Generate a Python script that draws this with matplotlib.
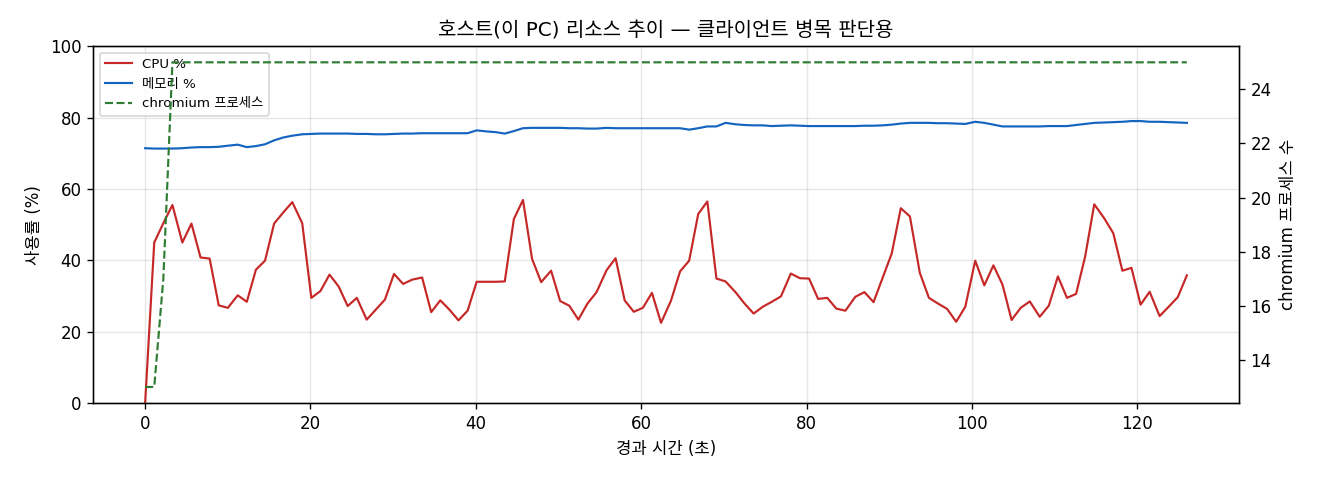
import matplotlib
matplotlib.use("Agg")
from matplotlib import pyplot as plt

plt.rcParams['font.family'] = ['DejaVu Sans', 'Noto Sans CJK KR']
plt.rcParams['axes.unicode_minus'] = False

# 경과 시간 (초)
elapsed = [
    0.0, 1.1, 2.2, 3.3, 4.5, 5.6, 6.7, 7.8, 8.9, 10.0,
    11.2, 12.3, 13.4, 14.5, 15.6, 16.7, 17.8, 19.0, 20.1, 21.2,
    22.3, 23.4, 24.5, 25.6, 26.8, 27.9, 29.0, 30.1, 31.2, 32.3,
    33.5, 34.6, 35.7, 36.8, 37.9, 39.0, 40.1, 41.3, 42.4, 43.5,
    44.6, 45.7, 46.8, 47.9, 49.1, 50.2, 51.3, 52.4, 53.5, 54.6,
    55.8, 56.9, 58.0, 59.1, 60.2, 61.3, 62.4, 63.6, 64.7, 65.8,
    66.9, 68.0, 69.1, 70.2, 71.4, 72.5, 73.6, 74.7, 75.8, 76.9,
    78.1, 79.2, 80.3, 81.4, 82.5, 83.6, 84.7, 85.9, 87.0, 88.1,
    89.2, 90.3, 91.4, 92.5, 93.7, 94.8, 95.9, 97.0, 98.1, 99.2,
    100.4, 101.5, 102.6, 103.7, 104.8, 105.9, 107.0, 108.2, 109.3, 110.4,
    111.5, 112.6, 113.7, 114.8, 116.0, 117.1, 118.2, 119.3, 120.4, 121.5,
    122.7, 123.8, 124.9, 126.0,
]

cpu = [
    0.0, 45.0, 50.4, 55.5, 45.0, 50.3, 40.8, 40.5, 27.4, 26.7,
    30.2, 28.4, 37.4, 39.9, 50.3, 53.4, 56.3, 50.4, 29.5, 31.4,
    36.0, 32.7, 27.2, 29.5, 23.4, 26.2, 29.0, 36.2, 33.4, 34.6,
    35.2, 25.5, 28.8, 26.2, 23.2, 25.9, 34.0, 34.0, 34.0, 34.1,
    51.6, 56.9, 40.4, 33.9, 37.1, 28.6, 27.3, 23.4, 27.9, 31.1,
    37.2, 40.6, 28.8, 25.6, 26.7, 30.9, 22.5, 28.7, 36.9, 39.9,
    53.0, 56.5, 34.9, 34.1, 31.1, 27.9, 25.1, 27.0, 28.4, 29.9,
    36.3, 35.0, 34.9, 29.2, 29.5, 26.5, 25.9, 29.8, 31.1, 28.3,
    35.1, 41.9, 54.6, 52.3, 36.5, 29.5, 27.9, 26.4, 22.8, 27.0,
    39.9, 33.0, 38.6, 33.2, 23.3, 26.7, 28.5, 24.2, 27.3, 35.5,
    29.5, 30.6, 41.1, 55.7, 51.8, 47.6, 37.1, 37.9, 27.6, 31.2,
    24.4, 27.0, 29.7, 35.8,
]

memory = [
    71.4, 71.3, 71.3, 71.3, 71.4, 71.6, 71.7, 71.7, 71.8, 72.1,
    72.4, 71.7, 72.0, 72.5, 73.6, 74.4, 74.9, 75.3, 75.4, 75.5,
    75.5, 75.5, 75.5, 75.4, 75.4, 75.3, 75.3, 75.4, 75.5, 75.5,
    75.6, 75.6, 75.6, 75.6, 75.6, 75.6, 76.4, 76.1, 75.9, 75.5,
    76.2, 77.0, 77.1, 77.1, 77.1, 77.1, 77.0, 77.0, 76.9, 76.9,
    77.1, 77.0, 77.0, 77.0, 77.0, 77.0, 77.0, 77.0, 77.0, 76.6,
    77.0, 77.5, 77.5, 78.5, 78.1, 77.9, 77.8, 77.8, 77.6, 77.7,
    77.8, 77.7, 77.6, 77.6, 77.6, 77.6, 77.6, 77.6, 77.7, 77.7,
    77.8, 78.0, 78.3, 78.5, 78.5, 78.5, 78.4, 78.4, 78.3, 78.2,
    78.8, 78.5, 78.0, 77.5, 77.5, 77.5, 77.5, 77.5, 77.6, 77.6,
    77.6, 77.9, 78.2, 78.5, 78.6, 78.7, 78.8, 79.0, 79.0, 78.8,
    78.8, 78.7, 78.6, 78.5,
]

chromium = [
    13, 13, 17, 25, 25, 25, 25, 25, 25, 25,
    25, 25, 25, 25, 25, 25, 25, 25, 25, 25,
    25, 25, 25, 25, 25, 25, 25, 25, 25, 25,
    25, 25, 25, 25, 25, 25, 25, 25, 25, 25,
    25, 25, 25, 25, 25, 25, 25, 25, 25, 25,
    25, 25, 25, 25, 25, 25, 25, 25, 25, 25,
    25, 25, 25, 25, 25, 25, 25, 25, 25, 25,
    25, 25, 25, 25, 25, 25, 25, 25, 25, 25,
    25, 25, 25, 25, 25, 25, 25, 25, 25, 25,
    25, 25, 25, 25, 25, 25, 25, 25, 25, 25,
    25, 25, 25, 25, 25, 25, 25, 25, 25, 25,
    25, 25, 25, 25,
]

fig, ax = plt.subplots(figsize=(11, 4), dpi=120)
fig.subplots_adjust(left=0.0705, right=0.9386, top=0.904, bottom=0.160)

l1, = ax.plot(elapsed, cpu, color='#c62828', linewidth=1.3, label='CPU %')
l2, = ax.plot(elapsed, memory, color='#1565c0', linewidth=1.3, label='메모리 %')
ax.set_ylim(0, 100)
ax.set_xlabel("경과 시간 (초)", fontsize=10)
ax.set_ylabel("사용률 (%)", fontsize=10)
ax.grid(True, alpha=0.3)
ax.tick_params(labelsize=10)

ax2 = ax.twinx()
l3, = ax2.plot(elapsed, chromium, color='#2e7d32', linestyle='--',
               linewidth=1.3, label='chromium 프로세스')
ax2.set_ylabel("chromium 프로세스 수", fontsize=10)
ax2.tick_params(labelsize=10)

ax.legend(handles=[l1, l2, l3], loc='upper left', fontsize=8)
ax.set_title("호스트(이 PC) 리소스 추이 — 클라이언트 병목 판단용", fontsize=12)

fig.savefig("out.png", dpi=120)
